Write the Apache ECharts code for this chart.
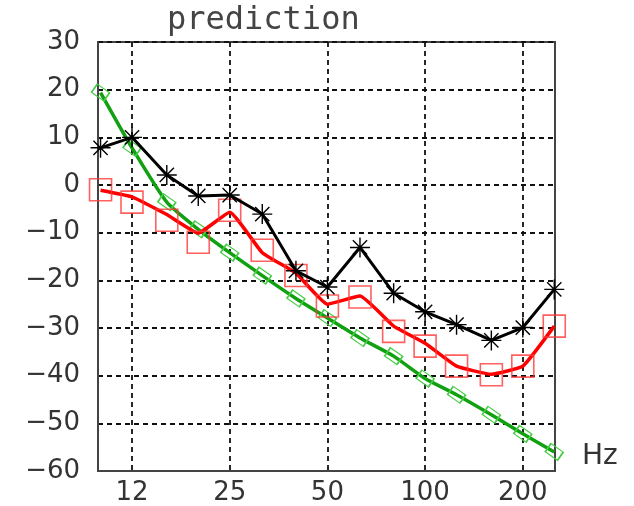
<!DOCTYPE html>
<html>
<head>
<meta charset="utf-8">
<script src="https://cdn.jsdelivr.net/npm/echarts@6/dist/echarts.min.js"></script>
<style>html,body{margin:0;padding:0;background:#fff;}#c{width:634px;height:506px;}</style>
</head>
<body>
<div id="c"></div>
<script>
const freqs = [10, 12.5, 16, 20, 25, 31.5, 40, 50, 63, 80, 100, 125, 160, 200, 250];
const measured = [7.8, 10, 2.1, -2.3, -2.1, -6.1, -18, -21.4, -13.1, -22.7, -26.6, -29.3, -32.6, -29.9, -21.9];
const predictionLine = [-1.1, -2.5, -6.2, -10.1, -5.7, -14.2, -18.5, -25, -23.3, -29.6, -33.2, -38, -39.7, -38, -29.6];
const predictionSquares = [-1, -3.6, -7.4, -12, -5.3, -13.7, -19, -25.4, -23.5, -30.7, -33.8, -38, -39.8, -38, -29.6];
const greenCurve = [19.4, 7.8, -3.6, -9.3, -14.2, -19, -23.8, -27.9, -32.1, -35.9, -40.6, -44, -48.2, -52.2, -56];
const tickFreqs = [12.5, 25, 50, 100, 200];
const tickLabels = ['12', '25', '50', '100', '200'];

const lx = f => Math.log2(f);
const pairs = vals => freqs.map((f, i) => [lx(f), vals[i]]);
const tickVals = tickFreqs.map(lx);

const star = 'path://M0,-8L0,8M-8,0L8,0M-5.7,-5.7L5.7,5.7M-5.7,5.7L5.7,-5.7';
const font = 'DejaVu Sans';

const chart = echarts.init(document.getElementById('c'), null, {renderer: 'canvas'});
chart.setOption({
  animation: false,
  backgroundColor: '#fff',
  title: {
    text: 'prediction', left: 162, top: 0,
    textStyle: {fontFamily: 'DejaVu Sans Mono', fontSize: 32, fontWeight: 'normal', color: '#444'}
  },
  grid: {left: 98, right: 79, top: 42, bottom: 35, show: true, borderColor: '#444', borderWidth: 2, containLabel: false},
  xAxis: {
    type: 'value',
    min: lx(12.5) - 34 / 97.7,
    max: lx(12.5) + 423 / 97.7,
    name: 'Hz', nameLocation: 'end', nameGap: 27,
    nameTextStyle: {fontFamily: font, fontSize: 28, color: '#333', verticalAlign: 'bottom', padding: [0, 0, 0, 0]},
    axisLine: {show: true, onZero: false, lineStyle: {color: '#444', width: 2}},
    axisTick: {show: false, customValues: tickVals},
    axisLabel: {
      customValues: tickVals, margin: 9,
      fontFamily: font, fontSize: 26, color: '#333',
      formatter: v => { const i = tickVals.findIndex(t => Math.abs(t - v) < 1e-6); return i >= 0 ? tickLabels[i] : ''; }
    },
    splitLine: {show: true, lineStyle: {color: '#111', type: [5, 4], width: 1.8}}
  },
  yAxis: {
    type: 'value', min: -60, max: 30, interval: 10,
    axisLine: {show: true, onZero: false, lineStyle: {color: '#444', width: 2}},
    axisTick: {show: false},
    axisLabel: {margin: 18, fontFamily: font, fontSize: 26, color: '#333',
      formatter: v => String(v).replace('-', '\u2212')},
    splitLine: {show: true, lineStyle: {color: '#111', type: [5, 4], width: 1.8}}
  },
  series: [
    {
      type: 'line', data: pairs(greenCurve), smooth: 0.2,
      lineStyle: {color: '#10a010', width: 3.5},
      symbol: 'rect', symbolSize: [15, 10], symbolRotate: -35,
      itemStyle: {color: 'transparent', borderColor: '#44cc44', borderWidth: 1.4},
      z: 2
    },
    {
      type: 'line', data: pairs(predictionLine), smooth: 0.12,
      lineStyle: {color: '#ff0000', width: 3.5},
      symbol: 'none', z: 3
    },
    {
      type: 'scatter', data: pairs(predictionSquares),
      symbol: 'rect', symbolSize: 22,
      itemStyle: {color: 'transparent', borderColor: '#ff3838', borderWidth: 1.6},
      z: 3
    },
    {
      type: 'line', data: pairs(measured),
      lineStyle: {color: '#000', width: 3},
      symbol: star, symbolSize: 20,
      itemStyle: {color: 'transparent', borderColor: '#000', borderWidth: 1.4},
      z: 4
    }
  ]
});
</script>
</body>
</html>
